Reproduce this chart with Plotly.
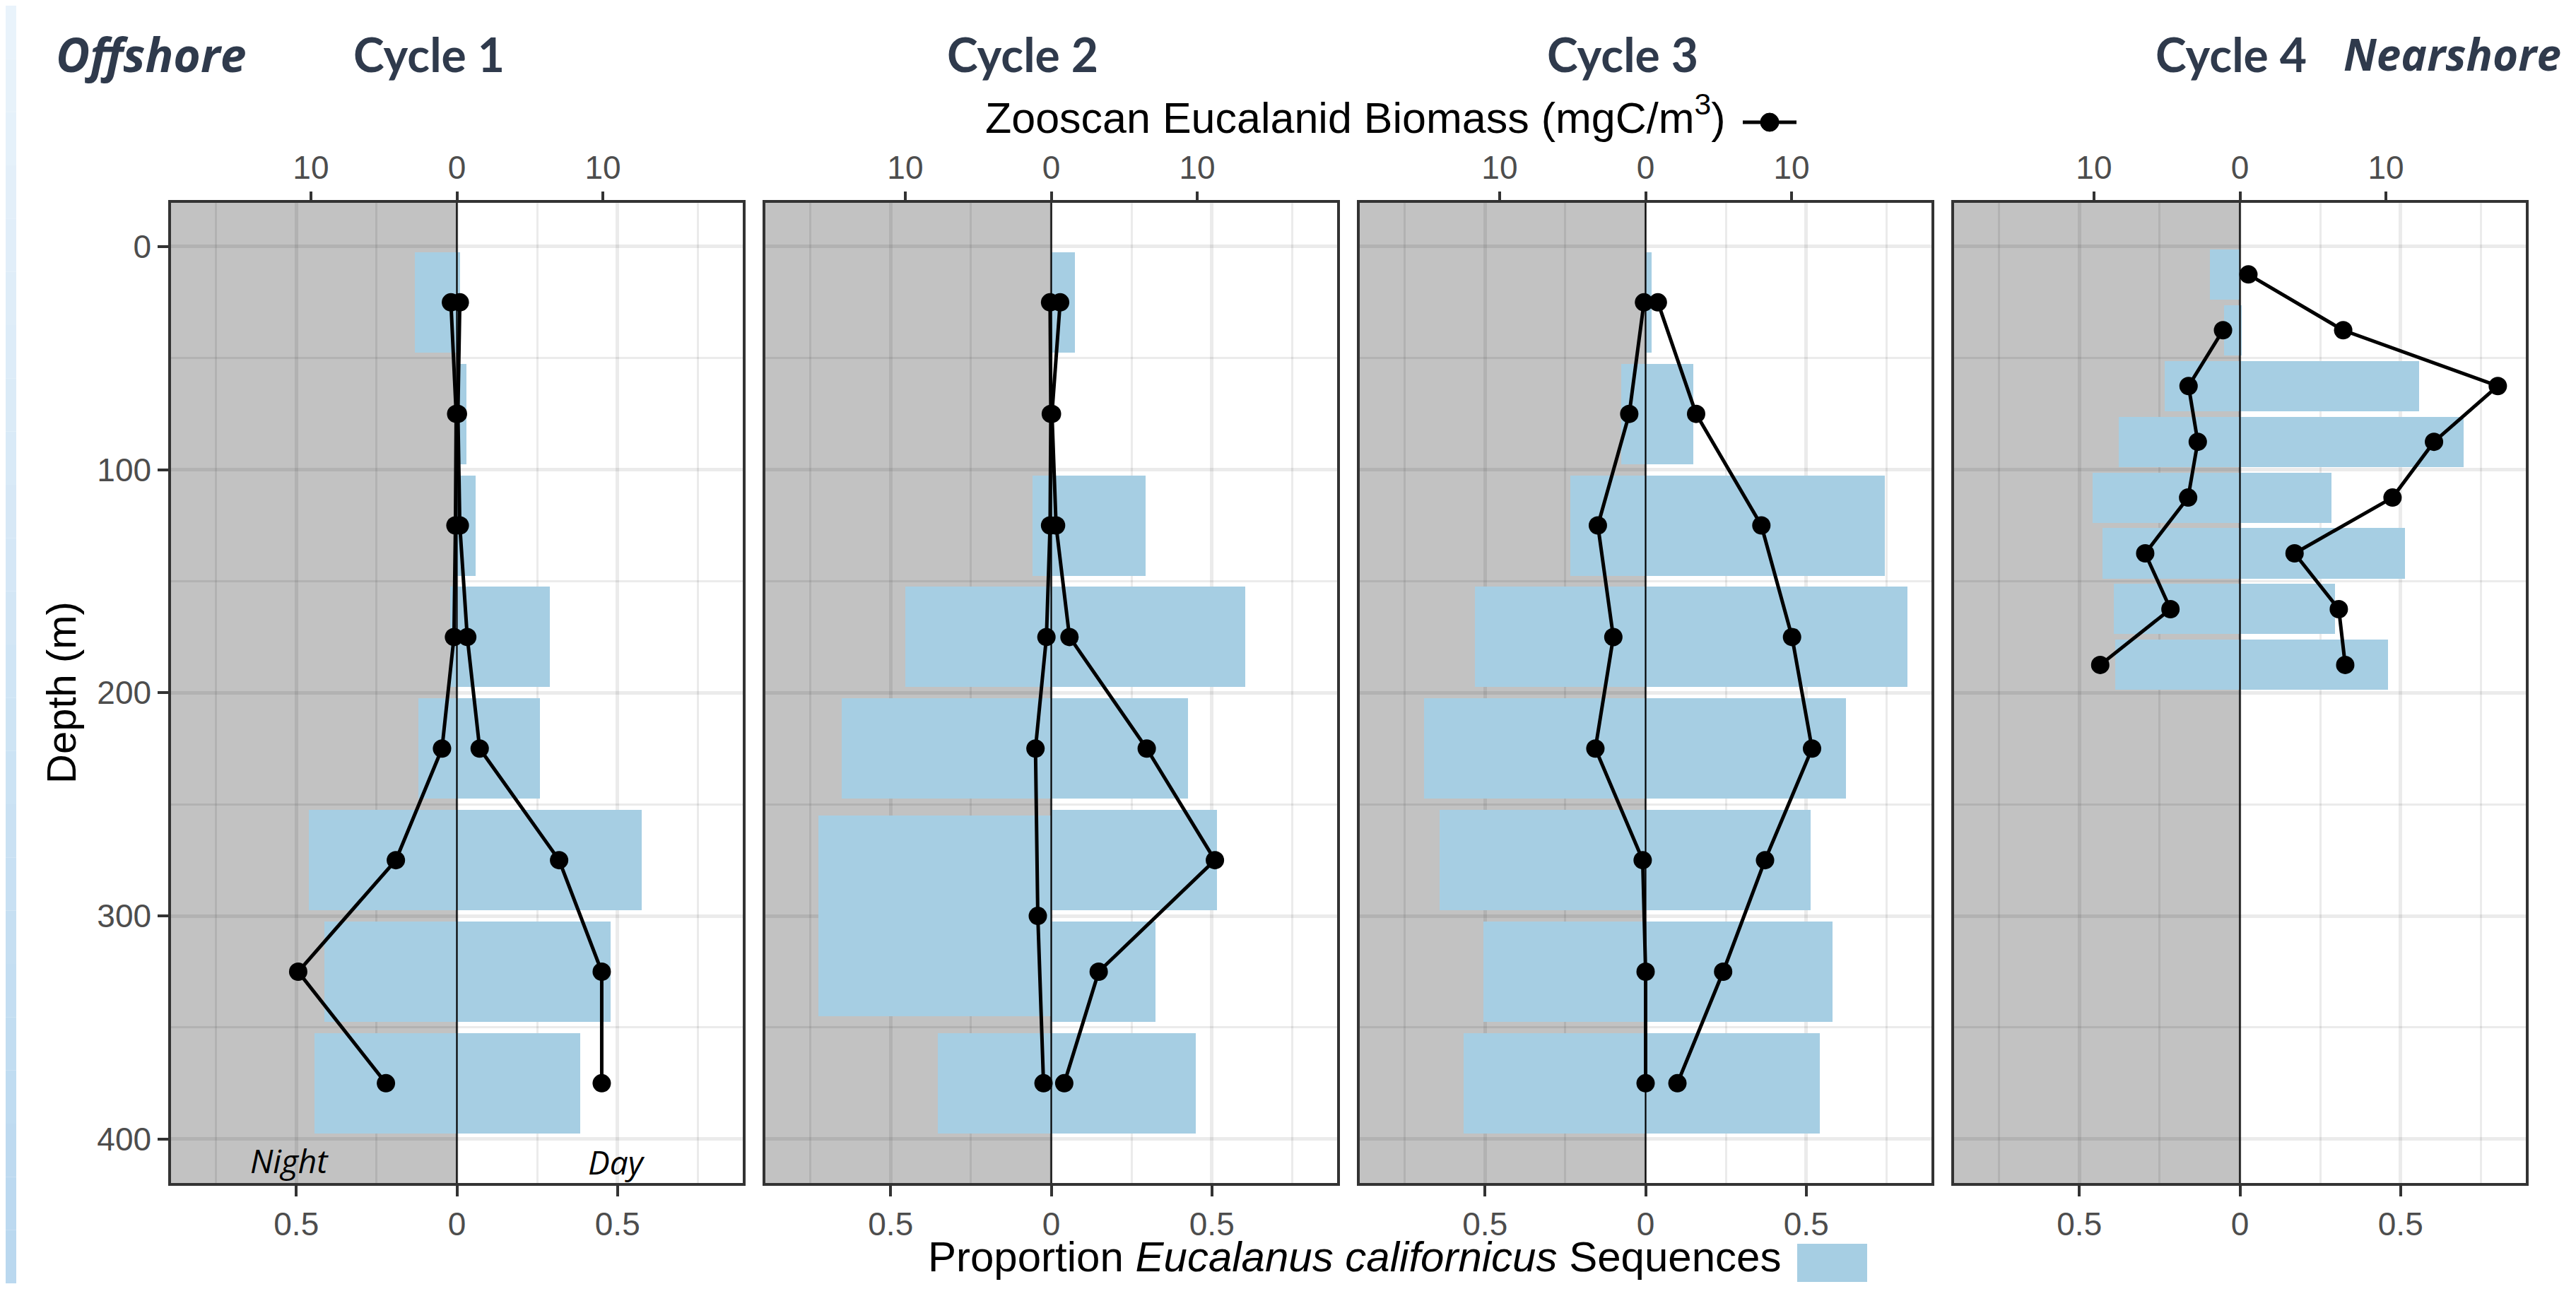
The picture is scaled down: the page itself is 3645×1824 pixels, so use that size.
import plotly.graph_objects as go

# ---------------- data ----------------
EDGES_50 = [0, 50, 100, 150, 200, 250, 300, 350, 400]
EDGES_25 = [0, 25, 50, 75, 100, 125, 150, 175, 200]
EDGES_C2_NIGHT = [0, 50, 100, 150, 200, 250, 350, 400]

CYCLES = ["Cycle 1", "Cycle 2", "Cycle 3", "Cycle 4"]

# proportion of Eucalanus californicus sequences (day = right, night = left)
C1_DAY_PROP = [0.009, 0.029, 0.059, 0.290, 0.258, 0.576, 0.478, 0.384]
C1_NIGHT_PROP = [0.130, 0.0, 0.0, 0.022, 0.119, 0.461, 0.412, 0.443]
C2_DAY_PROP = [0.074, 0.0, 0.293, 0.604, 0.426, 0.517, 0.325, 0.450]
C2_NIGHT_PROP = [0.0, 0.0, 0.059, 0.454, 0.653, 0.725, 0.354]
C3_DAY_PROP = [0.018, 0.148, 0.744, 0.816, 0.624, 0.514, 0.582, 0.542]
C3_NIGHT_PROP = [0.0, 0.075, 0.234, 0.532, 0.689, 0.641, 0.504, 0.566]
C4_DAY_PROP = [0.0, 0.005, 0.558, 0.696, 0.285, 0.514, 0.296, 0.461]
C4_NIGHT_PROP = [0.093, 0.050, 0.234, 0.378, 0.458, 0.429, 0.392, 0.389]

# Zooscan Eucalanid biomass (mgC/m3)
C1_DAY_BIO = [0.20, 0.07, 0.20, 0.71, 1.56, 7.00, 9.92, 9.92]
C1_NIGHT_BIO = [0.41, 0.05, 0.10, 0.20, 1.02, 4.18, 10.87, 4.86]
C2_DAY_BIO = [0.61, 0.05, 0.33, 1.25, 6.54, 11.21, 3.25, 0.89]
C2_NIGHT_BIO = [0.08, 0.03, 0.08, 0.33, 1.08, 0.92, 0.53]
C3_DAY_BIO = [0.84, 3.46, 7.93, 10.03, 11.40, 8.18, 5.31, 2.18]
C3_NIGHT_BIO = [0.11, 1.12, 3.27, 2.21, 3.44, 0.20, 0.0, 0.0]
C4_DAY_BIO = [0.58, 7.07, 17.66, 13.29, 10.45, 3.74, 6.77, 7.21]
C4_NIGHT_BIO = [None, 1.16, 3.52, 2.89, 3.55, 6.49, 4.76, 9.57]

X_TICKS = [-0.5, 0, 0.5]
X_TICK_TEXT = ["0.5", "0", "0.5"]
TOP_TICKS = [-10, 0, 10]
TOP_TICK_TEXT = ["10", "0", "10"]
Y_TICKS = [0, 100, 200, 300, 400]

PANELS = [
    dict(day_edges=EDGES_50, night_edges=EDGES_50, day_prop=C1_DAY_PROP, night_prop=C1_NIGHT_PROP,
         day_bio=C1_DAY_BIO, night_bio=C1_NIGHT_BIO),
    dict(day_edges=EDGES_50, night_edges=EDGES_C2_NIGHT, day_prop=C2_DAY_PROP, night_prop=C2_NIGHT_PROP,
         day_bio=C2_DAY_BIO, night_bio=C2_NIGHT_BIO),
    dict(day_edges=EDGES_50, night_edges=EDGES_50, day_prop=C3_DAY_PROP, night_prop=C3_NIGHT_PROP,
         day_bio=C3_DAY_BIO, night_bio=C3_NIGHT_BIO),
    dict(day_edges=EDGES_25, night_edges=EDGES_25, day_prop=C4_DAY_PROP, night_prop=C4_NIGHT_PROP,
         day_bio=C4_DAY_BIO, night_bio=C4_NIGHT_BIO),
]

# ---------------- styling / layout constants ----------------
PAGE_W, PAGE_H = 3645, 1824
OFF = 8                      # browser default body margin
W, H = PAGE_W - 2 * OFF, PAGE_H - 2 * OFF
PANEL_LEFT = [242, 1083, 1924, 2765]
PANEL_W = 809
TOP_PX, BOTTOM_PX = 287, 1674
X_RANGE = [-0.89, 0.89]
BIO_PER_PROP = 22.0
Y_RANGE = [419.7, -19.6]
BAR_COLOR = "#A6CEE3"
GRID = "rgba(0,0,0,0.078)"
BORDER = "#333333"
TICK_FONT = dict(family="Liberation Sans, Arial, sans-serif", size=46, color="#4D4D4D")
TITLE_COLOR = "#2F3A4C"


def px_x(px):
    return (px - OFF) / W


def px_y(py):
    return 1 - (py - OFF) / H


def bins(edges):
    centers = [(a + b) / 2 for a, b in zip(edges[:-1], edges[1:])]
    widths = [0.9 * (b - a) for a, b in zip(edges[:-1], edges[1:])]
    return centers, widths


fig = go.Figure()
ydom = [px_y(BOTTOM_PX), px_y(TOP_PX)]
layout_axes = {}
shapes = []

for i, p in enumerate(PANELS):
    xa = "x" if i == 0 else f"x{i + 1}"
    ya = "y" if i == 0 else f"y{i + 1}"
    xt = f"x{i + 5}"
    dc, dw = bins(p["day_edges"])
    nc, nw = bins(p["night_edges"])

    fig.add_trace(go.Bar(x=p["day_prop"], y=dc, width=dw, orientation="h",
                         marker=dict(color=BAR_COLOR, line=dict(width=0)),
                         xaxis=xa, yaxis=ya, showlegend=False, hoverinfo="skip"))
    fig.add_trace(go.Bar(x=[-v for v in p["night_prop"]], y=nc, width=nw, orientation="h",
                         marker=dict(color=BAR_COLOR, line=dict(width=0)),
                         xaxis=xa, yaxis=ya, showlegend=False, hoverinfo="skip"))

    for xs, ys in ((p["day_bio"], dc), ([None if v is None else -v for v in p["night_bio"]], nc)):
        fig.add_trace(go.Scatter(x=xs, y=ys, mode="lines+markers",
                                 line=dict(color="black", width=5),
                                 marker=dict(color="black", size=26),
                                 xaxis=xt, yaxis=ya, showlegend=False, hoverinfo="skip"))

    x0 = px_x(PANEL_LEFT[i])
    x1 = px_x(PANEL_LEFT[i] + PANEL_W)
    key = "xaxis" if i == 0 else f"xaxis{i + 1}"
    layout_axes[key] = dict(
        domain=[x0, x1], anchor=ya, range=X_RANGE, tickmode="array",
        tickvals=X_TICKS, ticktext=X_TICK_TEXT, ticks="outside", ticklen=15, tickwidth=3.5,
        tickcolor=BORDER, showline=True, linecolor=BORDER, linewidth=3.5, mirror=True,
        showgrid=True, gridcolor=GRID, gridwidth=5, zeroline=False, tickfont=TICK_FONT,
        minor=dict(tickmode="array", tickvals=[-0.75, -0.25, 0.25, 0.75], showgrid=True,
                   gridcolor=GRID, gridwidth=2.5, ticks=""),
        fixedrange=True,
    )
    layout_axes[f"xaxis{i + 5}"] = dict(
        domain=[x0, x1], anchor=ya, overlaying=xa, side="top",
        range=[X_RANGE[0] * BIO_PER_PROP, X_RANGE[1] * BIO_PER_PROP],
        tickmode="array", tickvals=TOP_TICKS, ticktext=TOP_TICK_TEXT,
        ticks="outside", ticklen=15, tickwidth=3.5, tickcolor=BORDER,
        showline=False, showgrid=False, zeroline=False, tickfont=TICK_FONT, fixedrange=True,
    )
    ykey = "yaxis" if i == 0 else f"yaxis{i + 1}"
    layout_axes[ykey] = dict(
        domain=ydom, anchor=xa, range=Y_RANGE, tickmode="array", tickvals=Y_TICKS,
        ticks="outside" if i == 0 else "", ticklen=15, tickwidth=3.5, tickcolor=BORDER,
        showticklabels=(i == 0), showline=True, linecolor=BORDER, linewidth=3.5, mirror=True,
        showgrid=True, gridcolor=GRID, gridwidth=5, zeroline=False, tickfont=TICK_FONT,
        minor=dict(tickmode="array", tickvals=[50, 150, 250, 350], showgrid=True,
                   gridcolor=GRID, gridwidth=2.5, ticks=""),
        fixedrange=True,
    )
    # night shading (below the semi-transparent gridlines)
    shapes.append(dict(type="rect", xref=xa, yref="paper", x0=X_RANGE[0], x1=0,
                       y0=ydom[0], y1=ydom[1],
                       fillcolor="#C2C2C2", line=dict(width=0), layer="below"))
    # zero line
    shapes.append(dict(type="line", xref=xa, yref="paper", x0=0, x1=0, y0=ydom[0], y1=ydom[1],
                       line=dict(color="black", width=2.2), layer="above"))

# left decorative gradient strip
N_BANDS = 24
c_top, c_bot = (233, 243, 251), (186, 216, 239)
for k in range(N_BANDS):
    t = k / (N_BANDS - 1)
    col = tuple(round(a + (b - a) * t) for a, b in zip(c_top, c_bot))
    shapes.append(dict(type="rect", xref="paper", yref="paper", x0=0, x1=px_x(23),
                       y0=max(0, 1 - (k + 1) / N_BANDS), y1=1 - k / N_BANDS,
                       fillcolor=f"rgb{col}", line=dict(width=0), layer="above"))

# legend keys
shapes.append(dict(type="line", xref="paper", yref="paper", x0=px_x(2466), x1=px_x(2542),
                   y0=px_y(173), y1=px_y(173), line=dict(color="black", width=5), layer="above"))
shapes.append(dict(type="circle", xref="paper", yref="paper", x0=px_x(2491), x1=px_x(2517),
                   y0=px_y(186), y1=px_y(160), fillcolor="black",
                   line=dict(color="black", width=1), layer="above"))
shapes.append(dict(type="rect", xref="paper", yref="paper", x0=px_x(2543), x1=px_x(2642),
                   y0=px_y(1814), y1=px_y(1760), fillcolor=BAR_COLOR, line=dict(width=0),
                   layer="above"))

TITLE_FONT = dict(family="Lato, 'Open Sans', sans-serif", size=66, color=TITLE_COLOR, weight="bold")
SHORE_FONT = dict(family="'Open Sans', Lato, sans-serif", size=62, color=TITLE_COLOR,
                  weight="bold", style="italic")
TITLE_X = [607, 1447, 2296, 3157]
annotations = []
for name, cx in zip(CYCLES, TITLE_X):
    annotations.append(dict(text=name, x=px_x(cx), y=px_y(76), xref="paper", yref="paper",
                            xanchor="center", yanchor="middle", showarrow=False, font=TITLE_FONT))
annotations.append(dict(text="Offshore", x=px_x(213), y=px_y(76), xref="paper", yref="paper",
                        xanchor="center", yanchor="middle", showarrow=False,
                        font=dict(SHORE_FONT, size=66)))
annotations.append(dict(text="Nearshore", x=px_x(3470), y=px_y(76), xref="paper", yref="paper",
                        xanchor="center", yanchor="middle", showarrow=False, font=SHORE_FONT))

LABEL_FONT = dict(family="Liberation Sans, Arial, sans-serif", size=61, color="black")
annotations.append(dict(text="Zooscan Eucalanid Biomass (mgC/m<sup>3</sup>)", x=px_x(2444), y=px_y(162),
                        xref="paper", yref="paper", xanchor="right", yanchor="middle",
                        showarrow=False, font=LABEL_FONT))
annotations.append(dict(text="Proportion <i>Eucalanus californicus</i> Sequences", x=px_x(2522),
                        y=px_y(1814), xref="paper", yref="paper", xanchor="right", yanchor="bottom",
                        showarrow=False, font=dict(LABEL_FONT, size=60)))
annotations.append(dict(text="Depth (m)", x=px_x(86), y=px_y(980), xref="paper", yref="paper",
                        xanchor="center", yanchor="middle", textangle=-90, showarrow=False,
                        font=dict(LABEL_FONT, size=58)))
NOTE_FONT = dict(family="'Open Sans', Lato, sans-serif", size=46, color="black", style="italic")
annotations.append(dict(text="Night", x=px_x(409), y=px_y(1642), xref="paper", yref="paper",
                        xanchor="center", yanchor="middle", showarrow=False, font=NOTE_FONT))
annotations.append(dict(text="Day", x=px_x(872), y=px_y(1644), xref="paper", yref="paper",
                        xanchor="center", yanchor="middle", showarrow=False, font=NOTE_FONT))

fig.update_layout(
    width=W, height=H, margin=dict(l=0, r=0, t=0, b=0, autoexpand=False),
    paper_bgcolor="white", plot_bgcolor="white", barmode="overlay", bargap=0,
    showlegend=False, shapes=shapes, annotations=annotations, **layout_axes,
)

fig.write_html("out.html")
